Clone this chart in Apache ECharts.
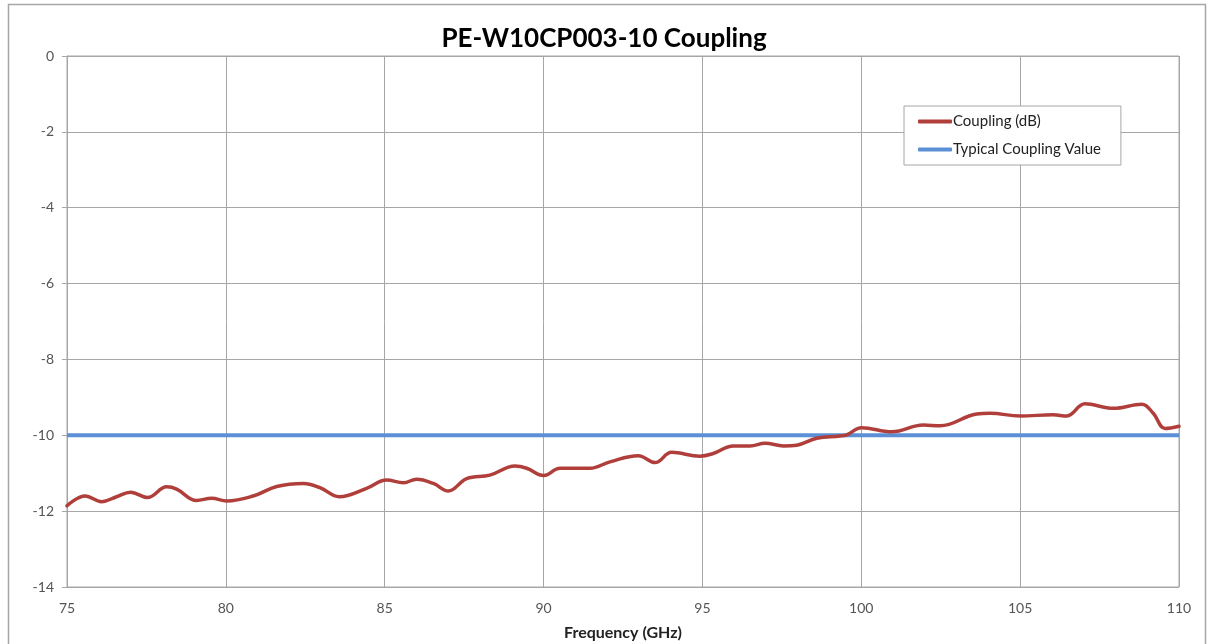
<!DOCTYPE html>
<html>
<head>
<meta charset="utf-8">
<title>PE-W10CP003-10 Coupling</title>
<script src="https://cdn.jsdelivr.net/npm/echarts@6/dist/echarts.min.js"></script>
<style>
    html, body { margin: 0; padding: 0; background: #fff; }
    #chart { width: 1208px; height: 644px; }
</style>
</head>
<body>
<div id="chart"></div>
<script>
const freqs = [75.0, 75.57, 76.09, 76.56, 77.0, 77.53, 78.14, 78.45, 79.08, 79.55, 80.03, 80.86,
    81.6, 82.44, 82.96, 83.57, 84.43, 85.06, 85.59, 86.0, 86.53, 87.0, 87.58, 88.31, 89.1, 89.47,
    90.01, 90.52, 91.46, 92.09, 92.98, 93.51, 94.03, 94.92, 95.34, 95.97, 96.5, 96.97, 97.55, 97.97,
    98.6, 99.33, 99.54, 100.01, 100.96, 101.95, 102.48, 103.63, 104.05, 105.0, 106.04, 106.47,
    107.04, 107.93, 108.83, 109.19, 109.56, 110.0];
const coupling = [-11.86, -11.60, -11.75, -11.62, -11.50, -11.64, -11.36, -11.42, -11.72, -11.66, -11.73, -11.60,
    -11.35, -11.27, -11.38, -11.62, -11.40, -11.18, -11.25, -11.16, -11.27, -11.47, -11.14, -11.05, -10.81, -10.87,
    -11.06, -10.87, -10.87, -10.70, -10.54, -10.72, -10.45, -10.55, -10.48, -10.28, -10.28, -10.21, -10.28, -10.26,
    -10.08, -10.02, -9.99, -9.80, -9.91, -9.73, -9.75, -9.44, -9.42, -9.49, -9.46, -9.49,
    -9.17, -9.29, -9.18, -9.42, -9.82, -9.76];
const typicalFreqs = [75, 110];
const typicalValue = [-10, -10];

const seriesNames = ['Coupling (dB)', 'Typical Coupling Value'];

(function () {
    let myChart = echarts.init(document.getElementById('chart'));
    const fontFam = 'Lato, "Open Sans", sans-serif';
    const gridColor = '#a6a6a6';

    let option = {
        backgroundColor: '#fff',
        animation: false,
        title: {
            text: 'PE-W10CP003-10 Coupling',
            left: 'center',
            top: 21,
            textStyle: { fontFamily: fontFam, fontWeight: 'bold', fontSize: 26, color: '#000' }
        },
        graphic: [
            {   // outer chart frame
                type: 'rect',
                shape: { x: 8.5, y: 4.5, width: 1197, height: 660 },
                style: { fill: 'none', stroke: '#a6a6a6', lineWidth: 1.5 },
                silent: true
            }
        ],
        grid: {
            left: 67, right: 29, top: 56, bottom: 57,
            outerBoundsMode: 'none',
            show: true, borderColor: gridColor, borderWidth: 1
        },
        legend: {
            orient: 'vertical',
            left: 904,
            top: 106,
            padding: [7, 20, 7, 14],
            itemGap: 11,
            itemWidth: 34,
            itemHeight: 4,
            icon: 'roundRect',
            borderColor: '#a6a6a6',
            borderWidth: 1,
            backgroundColor: '#fff',
            textStyle: { fontFamily: fontFam, fontSize: 15, color: '#222', padding: [0, 0, 0, -4], lineHeight: 17 },
            data: seriesNames
        },
        xAxis: {
            type: 'value',
            min: 75, max: 110, interval: 5,
            name: 'Frequency (GHz)',
            nameLocation: 'middle',
            nameGap: 38,
            nameTextStyle: { fontFamily: fontFam, fontWeight: 'bold', fontSize: 16, color: '#222' },
            axisLine: { lineStyle: { color: gridColor } },
            axisTick: { show: false },
            axisLabel: { fontFamily: fontFam, fontSize: 14, color: '#555', margin: 14 },
            splitLine: { lineStyle: { color: gridColor, width: 1 } }
        },
        yAxis: {
            type: 'value',
            min: -14, max: 0, interval: 2,
            axisLine: { show: true, lineStyle: { color: gridColor } },
            axisTick: { show: true, length: 5, lineStyle: { color: gridColor } },
            axisLabel: { fontFamily: fontFam, fontSize: 14, color: '#555', margin: 13 },
            splitLine: { lineStyle: { color: gridColor, width: 1 } }
        },
        series: [
            {
                name: seriesNames[0],
                type: 'line',
                smooth: 0.4,
                symbol: 'none',
                z: 3,
                lineStyle: { color: '#b03f3b', width: 3.5, cap: 'round' },
                itemStyle: { color: '#b03f3b' },
                data: freqs.map((f, i) => [f, coupling[i]])
            },
            {
                name: seriesNames[1],
                type: 'line',
                symbol: 'none',
                z: 2,
                lineStyle: { color: '#5b8fd6', width: 4 },
                itemStyle: { color: '#5b8fd6' },
                data: typicalFreqs.map((f, i) => [f, typicalValue[i]])
            }
        ]
    };

    myChart.setOption(option);
    window.addEventListener('resize', function () {
        myChart.resize();
    });
})();
</script>
</body>
</html>
